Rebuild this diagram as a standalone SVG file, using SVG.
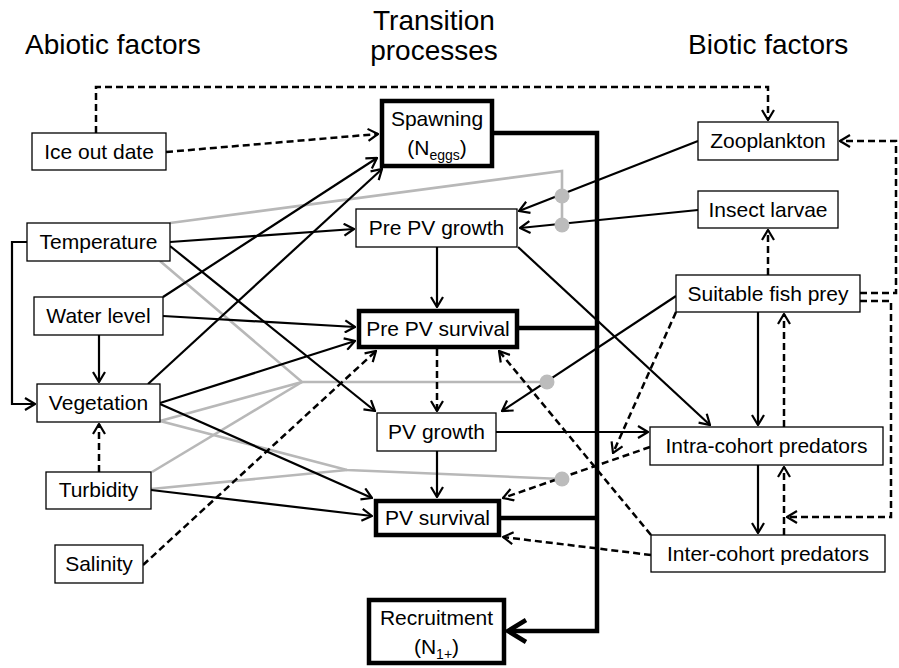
<svg xmlns="http://www.w3.org/2000/svg" width="899" height="668" viewBox="0 0 899 668">
<style>
text{font-family:"Liberation Sans",Arial,sans-serif;fill:#000}
.t{font-size:21px;text-anchor:middle}
.h{font-size:28px}
.n{fill:#fff;stroke:#000;stroke-width:1.3}
.k{fill:#fff;stroke:#000;stroke-width:4.5}
.c path{fill:none;stroke:#000;stroke-width:2.2}
.c .d{stroke-dasharray:7 4;stroke-width:2.5}
.c .g{stroke:#b8b8b8;stroke-width:2.6}
.c .w{stroke-width:4.5}
.dot{fill:#bcbcbc}
</style>
<defs>
<marker id="a" viewBox="0 0 12 14" markerWidth="12" markerHeight="14" refX="11" refY="7" orient="auto" markerUnits="userSpaceOnUse">
<path d="M1,1 L11,7 L1,13" fill="none" stroke="#000" stroke-width="2.2"/>
</marker>
<marker id="b" viewBox="0 0 22 26" markerWidth="22" markerHeight="26" refX="20" refY="13" orient="auto" markerUnits="userSpaceOnUse">
<path d="M2,2 L20,13 L2,24" fill="none" stroke="#000" stroke-width="4.5"/>
</marker>
</defs>
<text class="h" x="25" y="54">Abiotic factors</text>
<text class="h" x="434" y="30" text-anchor="middle">Transition</text>
<text class="h" x="434" y="60" text-anchor="middle">processes</text>
<text class="h" x="688" y="54">Biotic factors</text>
<g id="connectors" class="c">
<path class="g" d="M170,223 L562,171 V225"/>
<path class="g" d="M160,261 L302,382 L547,382"/>
<path class="g" d="M160,421 L302,382"/>
<path class="g" d="M152,472 L302,382"/>
<path class="g" d="M160,421 L347,470 L562,479"/>
<path class="g" d="M151,489 L347,470"/>
<path class="w" d="M494,133 H597 V631 H508" marker-end="url(#b)"/>
<path class="w" d="M519,328 H597"/>
<path class="w" d="M501,518 H597"/>
<path class="d" d="M96,133 V87 H768 V120" marker-end="url(#a)"/>
<path class="d" d="M166,152 L378,134" marker-end="url(#a)"/>
<path d="M170,242 L354,229" marker-end="url(#a)"/>
<path d="M170,246 L375,411" marker-end="url(#a)"/>
<path d="M27,242 H12 V404 H35" marker-end="url(#a)"/>
<path d="M163,297 L377,158" marker-end="url(#a)"/>
<path d="M163,316 L355,327" marker-end="url(#a)"/>
<path d="M99,335 V382" marker-end="url(#a)"/>
<path d="M148,384 L382,169" marker-end="url(#a)"/>
<path d="M160,403 L355,341" marker-end="url(#a)"/>
<path d="M160,404 L372,498" marker-end="url(#a)"/>
<path class="d" d="M99,472 V424" marker-end="url(#a)"/>
<path d="M151,490 L372,516" marker-end="url(#a)"/>
<path class="d" d="M143,565 L376,351" marker-end="url(#a)"/>
<path d="M437,247 V307" marker-end="url(#a)"/>
<path d="M518,247 L710,425" marker-end="url(#a)"/>
<path class="d" d="M437,349 V411" marker-end="url(#a)"/>
<path d="M437,451 V497" marker-end="url(#a)"/>
<path d="M496,432 H648" marker-end="url(#a)"/>
<path d="M698,141 L519,211" marker-end="url(#a)"/>
<path d="M698,210 L520,228" marker-end="url(#a)"/>
<path class="d" d="M768,275 V230" marker-end="url(#a)"/>
<path d="M676,296 L502,411" marker-end="url(#a)"/>
<path class="d" d="M676,312 L613,453" marker-end="url(#a)"/>
<path d="M758,312 V425" marker-end="url(#a)"/>
<path class="d" d="M860,293 H896 V141 H840" marker-end="url(#a)"/>
<path class="d" d="M860,301 H891 V517 H787" marker-end="url(#a)"/>
<path class="d" d="M784,427 V314" marker-end="url(#a)"/>
<path d="M758,465 V533" marker-end="url(#a)"/>
<path class="d" d="M650,447 L503,498" marker-end="url(#a)"/>
<path class="d" d="M784,535 V467" marker-end="url(#a)"/>
<path class="d" d="M651,555 L503,537" marker-end="url(#a)"/>
<path class="d" d="M651,535 L499,351" marker-end="url(#a)"/>
<circle class="dot" cx="562" cy="196" r="7.5"/>
<circle class="dot" cx="562" cy="225" r="7.5"/>
<circle class="dot" cx="547" cy="382" r="7.5"/>
<circle class="dot" cx="562" cy="479" r="7.5"/>
</g>
<g id="ice"><rect class="n" x="32" y="133" width="134" height="37"/><text class="t" x="99" y="159">Ice out date</text></g>
<g id="temperature"><rect class="n" x="27" y="223" width="143" height="38"/><text class="t" x="98.5" y="249">Temperature</text></g>
<g id="water"><rect class="n" x="34" y="297" width="129" height="38"/><text class="t" x="98.5" y="323">Water level</text></g>
<g id="vegetation"><rect class="n" x="37" y="384" width="123" height="38"/><text class="t" x="98.5" y="410">Vegetation</text></g>
<g id="turbidity"><rect class="n" x="46" y="472" width="105" height="37"/><text class="t" x="98.5" y="497">Turbidity</text></g>
<g id="salinity"><rect class="n" x="55" y="545" width="88" height="38"/><text class="t" x="99" y="571">Salinity</text></g>
<g id="spawning"><rect class="k" x="382" y="101" width="110" height="65"/><text class="t" x="437" y="126">Spawning</text><text class="t" x="437" y="155">(N<tspan font-size="14" dy="5">eggs</tspan><tspan dy="-5">)</tspan></text></g>
<g id="prepvgrowth"><rect class="n" x="356" y="209" width="161" height="38"/><text class="t" x="436.5" y="235">Pre PV growth</text></g>
<g id="prepvsurvival"><rect class="k" x="359" y="311" width="158" height="36"/><text class="t" x="438" y="336">Pre PV survival</text></g>
<g id="pvgrowth"><rect class="n" x="377" y="413" width="119" height="38"/><text class="t" x="436.5" y="439">PV growth</text></g>
<g id="pvsurvival"><rect class="k" x="376" y="501" width="123" height="34"/><text class="t" x="437.5" y="525">PV survival</text></g>
<g id="recruitment"><rect class="k" x="369" y="600" width="135" height="63"/><text class="t" x="436.5" y="625">Recruitment</text><text class="t" x="436.5" y="654">(N<tspan font-size="14" dy="5">1+</tspan><tspan dy="-5">)</tspan></text></g>
<g id="zooplankton"><rect class="n" x="698" y="122" width="140" height="38"/><text class="t" x="768" y="148">Zooplankton</text></g>
<g id="insect"><rect class="n" x="698" y="191" width="140" height="37"/><text class="t" x="768" y="217">Insect larvae</text></g>
<g id="fishprey"><rect class="n" x="676" y="275" width="184" height="37"/><text class="t" x="768" y="301">Suitable fish prey</text></g>
<g id="intra"><rect class="n" x="650" y="427" width="233" height="38"/><text class="t" x="766.5" y="453">Intra-cohort predators</text></g>
<g id="inter"><rect class="n" x="651" y="535" width="234" height="37"/><text class="t" x="768" y="561">Inter-cohort predators</text></g>
</svg>
